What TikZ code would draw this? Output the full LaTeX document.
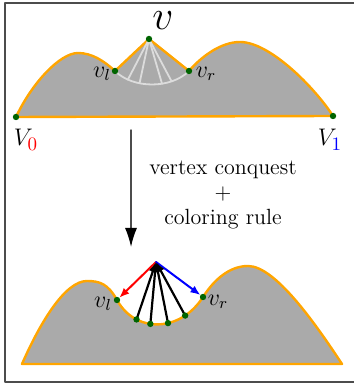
\documentclass[tikz,border=0pt]{standalone}
\usetikzlibrary{arrows.meta}
\definecolor{naranja}{HTML}{FFA500}
\definecolor{verde}{HTML}{006400}
\definecolor{relleno}{HTML}{AAAAAA}
\definecolor{abanico}{HTML}{DCDCDC}
\tikzset{
  contorno/.style={draw=naranja, fill=relleno, line width=1.2pt},
  rayo/.style={abanico, line width=0.9pt},
  flecha/.style={line width=1pt, -{Latex[length=5pt,width=4pt]}},
}
\newcommand{\punto}[1]{\fill[verde] (#1) circle (3.2);}
\newcommand{\sub}[2]{\mbox{\color{#1}\fontsize{9.5}{10}\selectfont #2}}
\begin{document}
\begin{tikzpicture}[x=0.5pt, y=0.5pt, line cap=round, line join=round]
  \useasboundingbox (0,0) rectangle (353,383);
  % el marco
  \draw[line width=0.7pt, black!70] (5,1) rectangle (360,380);
  % arriba: antes de la conquista
  \coordinate (V0) at (16,266);
  \coordinate (V1) at (333,267);
  \coordinate (vl) at (115,312);
  \coordinate (v) at (149,344);
  \coordinate (vr) at (189,312);
  \filldraw[contorno] (V0) .. controls (32,300) and (60,330) .. (78,330)
    .. controls (92,330) and (104,322) .. (vl) -- (v) -- (vr)
    .. controls (200,325) and (220,341) .. (240,341)
    .. controls (270,341) and (315,295) .. (V1) -- cycle;
  % el abanico gris claro
  \draw[rayo] (vl) .. controls (133,294) and (171,294) .. (vr)
    coordinate[pos=0.2] (a1) coordinate[pos=0.35] (a2)
    coordinate[pos=0.62] (a3) coordinate[pos=0.74] (a4);
  \foreach \i in {1,...,4} \draw[rayo] (v) -- (a\i);
  \foreach \p in {V0,V1,vl,v,vr} \punto{\p};
  \node (etv) at (163,362) [inner sep=0pt, font=\huge] {$v$};
  \node (etvl) at (102,309) {\large $v_l$};
  \node (etvr) at (206,309) {\large $v_r$};
  \node (etV0) at (26,243) {\large $V_{\sub{red}{0}}$};
  \node (etV1) at (330,243) {\large $V_{\sub{blue}{1}}$};
  % la flecha del medio y su texto
  \coordinate (salida) at (131,253);
  \coordinate (llegada) at (131,136);
  \draw[line width=0.7pt, black!70, -{Latex[length=9.5pt,width=6pt,black]}] (salida) -- (llegada);
  \node (regla) at (223,188) [align=center, font=\fontsize{11}{12.3}\selectfont]
    {vertex conquest\\+\\coloring rule};
  % abajo: después de la conquista
  \coordinate (b0) at (22,19);
  \coordinate (b1) at (342,19);
  \coordinate (wl) at (117,83);
  \coordinate (wr) at (203,86);
  \coordinate (w) at (156,121);
  \filldraw[contorno] (b0) .. controls (40,60) and (65,102) .. (87,102)
    .. controls (100,102) and (108,99) .. (wl)
    .. controls (135,50) and (180,50) .. (wr)
    coordinate[pos=0.27] (d1) coordinate[pos=0.42] (d2)
    coordinate[pos=0.6] (d3) coordinate[pos=0.78] (d4)
    .. controls (214.5,104) and (230,117) .. (248,117)
    .. controls (275,117) and (315,60) .. (b1) -- cycle;
  % las flechas
  \draw[flecha, red, shorten >=1.6pt] (w) -- (wl);
  \draw[flecha, blue, shorten >=1.6pt] (w) -- (wr);
  \foreach \i in {1,...,4} \draw[flecha, line width=1.1pt] (d\i) -- (w);
  \foreach \p in {wl,wr,d1,d2,d3,d4} \punto{\p};
  \node (etwl) at (103,79) {\large $v_l$};
  \node (etwr) at (218,81) {\large $v_r$};
\end{tikzpicture}
\end{document}
